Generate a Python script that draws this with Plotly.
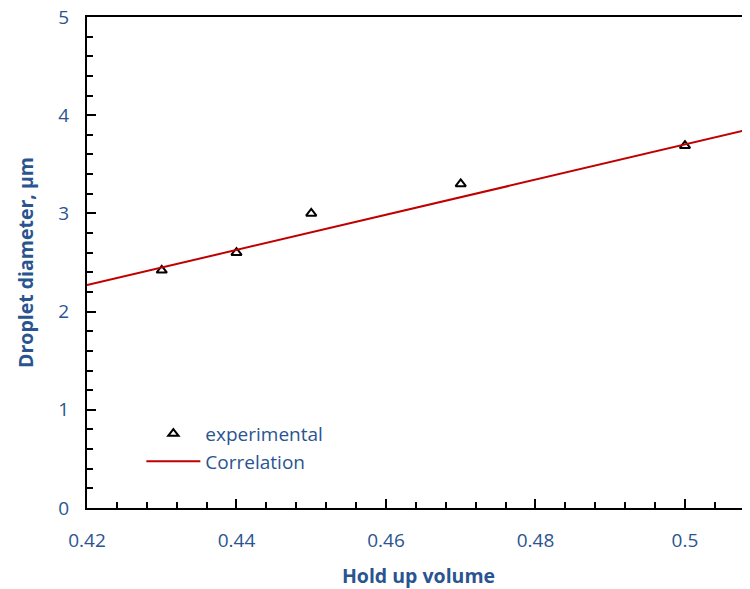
import plotly.graph_objects as go

# Data
holdup_exp = [0.43, 0.44, 0.45, 0.47, 0.50]
diam_exp = [2.42, 2.60, 3.00, 3.30, 3.69]

holdup_corr = [0.42, 0.52]
diam_corr = [2.27, 4.06]

x_tickvals = [0.42, 0.44, 0.46, 0.48, 0.50]
x_ticktext = ["0.42", "0.44", "0.46", "0.48", "0.5"]
y_tickvals = [0, 1, 2, 3, 4, 5]

txt = "#2A5490"
font = "Open Sans"

fig = go.Figure()
fig.add_trace(go.Scatter(
    x=holdup_exp, y=diam_exp, mode="markers", name="experimental",
    marker=dict(symbol="triangle-up-open", size=9, color="black", line=dict(width=2, color="black")),
))
fig.add_trace(go.Scatter(
    x=holdup_corr, y=diam_corr, mode="lines", name="Correlation",
    line=dict(color="#C00000", width=2),
))

fig.update_layout(
    width=742, height=581,
    margin=dict(l=79, r=0, t=9, b=81, autoexpand=False),
    plot_bgcolor="white", paper_bgcolor="white",
    font=dict(family=font, color=txt, size=18),
    legend=dict(x=0.082, y=0.19, xanchor="left", yanchor="top",
                bgcolor="rgba(0,0,0,0)", font=dict(size=19, color=txt),
                tracegroupgap=0, itemwidth=54),
    xaxis=dict(
        range=[0.42, 0.5087], tickvals=x_tickvals, ticktext=x_ticktext,
        showgrid=False, zeroline=False, automargin=False, ticklabeloverflow="allow",
        showline=True, linecolor="black", linewidth=2, mirror=True,
        ticks="inside", ticklen=9, tickwidth=2, tickcolor="black",
        minor=dict(dtick=0.004, tick0=0.42, ticks="inside", ticklen=6, tickwidth=2, tickcolor="black", showgrid=False),
        tickfont=dict(size=19, color=txt), ticklabelstandoff=14,
        title=dict(text="<b>Hold up volume</b>", font=dict(size=19.5, color=txt), standoff=20),
    ),
    yaxis=dict(
        range=[0, 5], tickvals=y_tickvals,
        showgrid=False, zeroline=False, automargin=False, ticklabeloverflow="allow",
        showline=True, linecolor="black", linewidth=2,
        ticks="inside", ticklen=9, tickwidth=2, tickcolor="black",
        minor=dict(dtick=0.2, ticks="inside", ticklen=6, tickwidth=2, tickcolor="black", showgrid=False),
        tickfont=dict(size=19, color=txt), ticklabelstandoff=12,
        title=dict(text="<b>Droplet diameter, μm</b>", font=dict(size=19.5, color=txt), standoff=20),
    ),
)

fig.write_html("out.html")
